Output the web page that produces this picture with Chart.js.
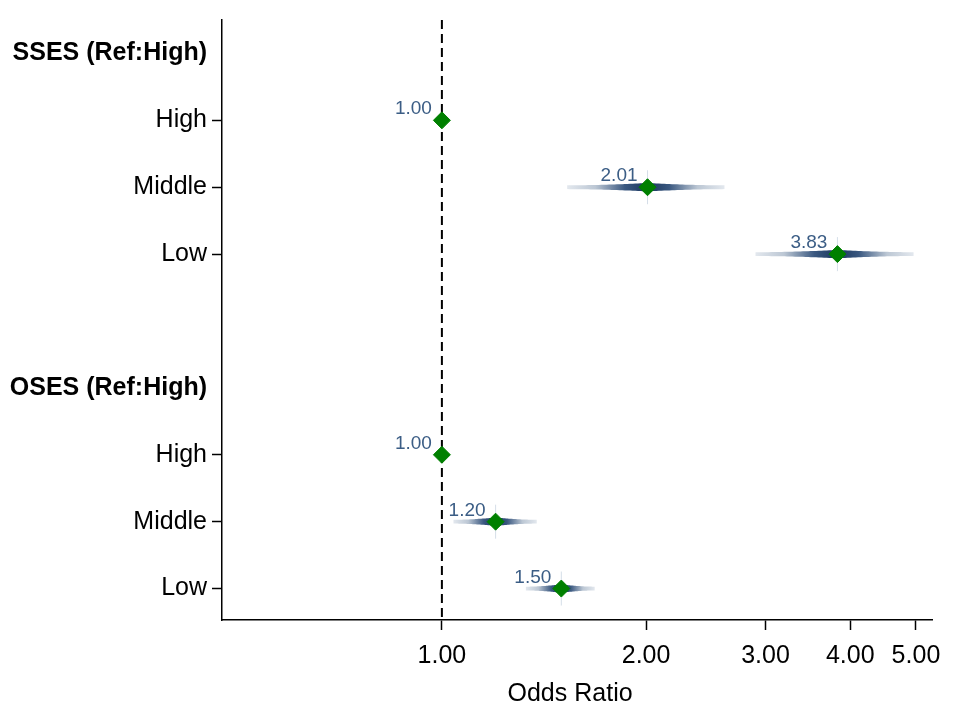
<!DOCTYPE html>
<html>
<head>
<meta charset="utf-8">
<script src="https://cdn.jsdelivr.net/npm/chart.js@4"></script>
<style>
    body { margin: 0; background: #fff; }
    .wrap { width: 956px; height: 719px; }
</style>
</head>
<body>
<div class="wrap"><canvas id="forest"></canvas></div>
<script>
// rows on the y axis, top to bottom (0 = top)
const rowLabels = ['SSES (Ref:High)', 'High', 'Middle', 'Low', '', 'OSES (Ref:High)', 'High', 'Middle', 'Low'];
const headerRows = [0, 5];

// estimates
const estRows = [1, 2, 3, 6, 7, 8];
const oddsRatios = [1.00, 2.01, 3.83, 1.00, 1.20, 1.50];
const ciLower = [null, 1.53, 2.90, null, 1.04, 1.33];
const ciUpper = [null, 2.61, 4.96, null, 1.38, 1.68];

// x axis
const xTicks = [1, 2, 3, 4, 5];
const xMin = 0.474;
const xMax = 5.28;
const refValue = 1;
const yMin = -0.5;
const yMax = 8.47;

const green = 'rgb(0, 128, 0)';
const navy = '#1a365e';
const labelColor = '#3b5d85';

// shortcut
const c = (e) => document.querySelector(e);

// no tick mark on header rows or blank rows
const noTick = (v) => headerRows.includes(v) || rowLabels[v] === '';

// gradient "spindle" for each confidence interval, under the points
const ciPlugin = {
    id: 'ciSpindle',
    beforeDatasetsDraw(chart) {
        const ctx = chart.ctx;
        const xs = chart.scales.x, ys = chart.scales.y;
        ctx.save();
        estRows.forEach((row, i) => {
            if (ciLower[i] == null) return;
            const x0 = xs.getPixelForValue(ciLower[i]);
            const x1 = xs.getPixelForValue(ciUpper[i]);
            const xc = xs.getPixelForValue(oddsRatios[i]);
            const y = ys.getPixelForValue(row);
            const m = (xc - x0) / (x1 - x0);

            const g = ctx.createLinearGradient(x0, 0, x1, 0);
            g.addColorStop(0, '#e3e8ee');
            g.addColorStop(m * 0.35, '#bcc7d4');
            g.addColorStop(m * 0.72, '#3a5880');
            g.addColorStop(m, navy);
            g.addColorStop(m + (1 - m) * 0.28, '#3a5880');
            g.addColorStop(m + (1 - m) * 0.65, '#bcc7d4');
            g.addColorStop(1, '#e3e8ee');

            const half = (x) => {
                const len = x < xc ? xc - x0 : x1 - xc;
                const t = Math.min(1, Math.abs(x - xc) / len);
                return 1.9 + 2.3 * Math.pow(1 - t, 1.8);
            };
            const steps = 60;
            ctx.beginPath();
            for (let s = 0; s <= steps; s++) {
                const x = x0 + (x1 - x0) * s / steps;
                ctx.lineTo(x, y - half(x));
            }
            for (let s = steps; s >= 0; s--) {
                const x = x0 + (x1 - x0) * s / steps;
                ctx.lineTo(x, y + half(x));
            }
            ctx.closePath();
            ctx.fillStyle = g;
            ctx.fill();

            // faint vertical whisker through the estimate
            ctx.strokeStyle = 'rgba(195, 208, 222, 0.7)';
            ctx.lineWidth = 1;
            ctx.beginPath();
            ctx.moveTo(xc, y - 17);
            ctx.lineTo(xc, y + 17);
            ctx.stroke();
        });
        ctx.restore();
    },
    afterDatasetsDraw(chart) {
        const ctx = chart.ctx;
        const xs = chart.scales.x, ys = chart.scales.y;
        ctx.save();
        ctx.font = '19px "Liberation Sans", Arial, sans-serif';
        ctx.fillStyle = labelColor;
        ctx.textAlign = 'right';
        ctx.textBaseline = 'alphabetic';
        estRows.forEach((row, i) => {
            const x = xs.getPixelForValue(oddsRatios[i]);
            const y = ys.getPixelForValue(row);
            ctx.fillText(oddsRatios[i].toFixed(2), x - 10, y - 6);
        });
        ctx.restore();
    }
};

Chart.defaults.font.family = '"Liberation Sans", Arial, sans-serif';
Chart.defaults.color = '#000';

new Chart(c('#forest'), {
    type: 'scatter',
    data: {
        datasets: [
            {
                label: 'Odds ratio',
                data: estRows.map((row, i) => ({x: oddsRatios[i], y: row})),
                pointStyle: 'rectRot',
                pointRadius: 8.5,
                backgroundColor: green,
                borderColor: green,
                borderWidth: 1,
                order: 1
            },
            {
                label: 'Reference',
                type: 'line',
                data: [{x: refValue, y: yMin}, {x: refValue, y: yMax}],
                showLine: true,
                borderColor: '#000',
                borderWidth: 2,
                borderDash: [9, 5],
                pointRadius: 0,
                order: 2
            }
        ]
    },
    options: {
        responsive: true,
        maintainAspectRatio: false,
        animation: false,
        layout: {
            padding: {top: 18, right: 24, left: 0, bottom: 0}
        },
        plugins: {
            legend: {display: false},
            tooltip: {enabled: false}
        },
        scales: {
            x: {
                type: 'logarithmic',
                min: xMin,
                max: xMax,
                afterBuildTicks: (scale) => {
                    scale.ticks = xTicks.map(v => ({value: v}));
                },
                afterFit: (scale) => { scale.height = 99; },
                ticks: {
                    autoSkip: false,
                    maxRotation: 0,
                    padding: 11,
                    font: {size: 25},
                    color: '#000',
                    callback: (v) => Number(v).toFixed(2)
                },
                grid: {
                    drawOnChartArea: false,
                    tickLength: 10,
                    tickWidth: 1.5,
                    tickColor: '#000'
                },
                border: {display: true, color: '#000', width: 1.5},
                title: {
                    display: true,
                    text: 'Odds Ratio  ',
                    font: {size: 25},
                    color: '#000',
                    padding: {top: 0, bottom: 10}
                }
            },
            y: {
                type: 'linear',
                reverse: true,
                min: yMin,
                max: yMax,
                afterBuildTicks: (scale) => {
                    scale.ticks = rowLabels.map((_, i) => ({value: i}));
                },
                afterFit: (scale) => { scale.width = 222; },
                ticks: {
                    autoSkip: false,
                    padding: 5,
                    color: '#000',
                    font: (ctx) => ({
                        size: 25,
                        weight: headerRows.includes(ctx.tick && ctx.tick.value) ? 'bold' : 'normal'
                    }),
                    callback: (v) => rowLabels[v]
                },
                grid: {
                    drawOnChartArea: false,
                    tickLength: 10,
                    tickWidth: 1.5,
                    tickColor: (ctx) => (ctx.tick && noTick(ctx.tick.value) ? 'rgba(0,0,0,0)' : '#000')
                },
                border: {display: true, color: '#000', width: 1.5}
            }
        }
    },
    plugins: [ciPlugin]
});
</script>
</body>
</html>
